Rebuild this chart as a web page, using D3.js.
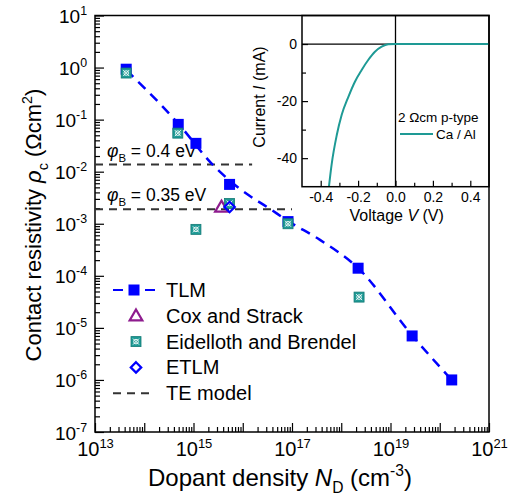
<!DOCTYPE html>
<html lang="en">
<head>
<meta charset="UTF-8"/>
<title>Contact resistivity vs dopant density</title>
<script src="https://d3js.org/d3.v7.min.js"></script>
<style>
	body { margin: 0; background: #fff; }
	svg { font-family: Arial, "Liberation Sans", Helvetica, sans-serif; }
	.frame { fill: none; stroke: #000; stroke-width: 1.5; }
	.tick line { stroke: #000; stroke-width: 1.2; }
	.te { fill: none; stroke: #333; stroke-width: 2; stroke-dasharray: 8,6; }
	.fit { fill: none; stroke: #0000ff; stroke-width: 2.5; stroke-dasharray: 10,7; }
</style>
</head>
<body>
<div id="chart"></div>
<script>
// TLM measurements
var tlmN   = [4.3e13, 4.9e14, 1.12e15, 5.4e15, 8.3e16, 2.2e18, 2.75e19, 1.75e20];
var tlmRho = [0.93, 0.081, 0.035, 0.0057, 0.0011, 1.4e-4, 7e-6, 1.0e-6];
// dashed guide through the TLM data
var fitN   = [4.3e13, 4.8e14, 2.5e15, 8.8e15, 3.6e16, 8.3e16, 3.7e17, 2.2e18, 2.7e19, 1.75e20];
var fitRho = [0.9, 0.086, 0.0134, 0.00465, 0.00192, 0.00113, 4.9e-4, 1.41e-4, 7.3e-6, 1.0e-6];
// Cox and Strack
var coxN = [3.7e15], coxRho = [2.1e-3];
// Eidelloth and Brendel
var eidN   = [4.3e13, 4.8e14, 1.12e15, 5.4e15, 8.3e16, 2.3e18];
var eidRho = [0.785, 0.055, 7.8e-4, 2.45e-3, 1.0e-3, 3.9e-5];
// ETLM
var etlmN = [5.4e15], etlmRho = [2.1e-3];
// TE model lines
var teLabels = ["0.4 eV", "0.35 eV"];
var teRho = [0.0137, 1.9e-3];
var teEnd = [1.55e16, 1.0e17];
// inset I-V curve
var ivV = [-0.356, -0.342, -0.314, -0.288, -0.252, -0.217, -0.181, -0.146, -0.110, -0.074, -0.039, 0, 0.5];
var ivI = [-50, -42.4, -31.9, -24.9, -18.5, -13.2, -9.1, -5.6, -2.7, -0.93, -0.1, 0, 0];
// ticks
var xLabelExp = [13, 15, 17, 19, 21];
var yLabelExp = [1, 0, -1, -2, -3, -4, -5, -6, -7];
var ivXTicks = [-0.4, -0.2, 0.0, 0.2, 0.4];
var ivYTicks = [0, -20, -40];

var w = 511, h = 497;
var blue = "#0000ff", purple = "#8e1c8e", teal = "#1e9a95";

var svg = d3.select("#chart").append("svg").attr("width", w).attr("height", h);

var x = d3.scaleLog().domain([1e13, 1e21]).range([95, 489]);
var y = d3.scaleLog().domain([1e-7, 1e1]).range([432, 15.5]);

// text with italic / sub / sup runs; base = extra first-line shift in px
function rich(t, parts, fs, base) {
	var off = 0;
	parts.forEach(function(p, i){
		var s = t.append("tspan").text(p.t);
		var target = p.sub ? fs*0.3 : (p.sup ? -fs*0.42 : 0);
		s.attr("dy", target - off + (i === 0 ? (base || 0) : 0));
		off = target;
		if (p.sub || p.sup) s.attr("font-size", fs*0.65);
		if (p.i) s.attr("font-style", "italic");
	});
}

// minor / major ticks for log axes
var xMajor = d3.range(13, 22).map(function(e){ return Math.pow(10, e); });
var xMinor = [];
d3.range(13, 21).forEach(function(e){ for (var k = 2; k < 10; k++) xMinor.push(k*Math.pow(10, e)); });
var yMajor = d3.range(-7, 2).map(function(e){ return Math.pow(10, e); });
var yMinor = [];
d3.range(-7, 1).forEach(function(e){ for (var k = 2; k < 10; k++) yMinor.push(k*Math.pow(10, e)); });

var gx = svg.append("g").attr("transform", "translate(0,432)")
	.call(d3.axisBottom(x).tickValues(xMajor).tickSize(-9).tickPadding(10).tickFormat(""));
svg.append("g").attr("transform", "translate(0,432)")
	.call(d3.axisBottom(x).tickValues(xMinor).tickSize(-5).tickFormat(""));
var gy = svg.append("g").attr("transform", "translate(95,0)")
	.call(d3.axisLeft(y).tickValues(yMajor).tickSize(-9).tickPadding(8).tickFormat(""));
svg.append("g").attr("transform", "translate(95,0)")
	.call(d3.axisLeft(y).tickValues(yMinor).tickSize(-5).tickFormat(""));
svg.selectAll(".domain").remove();

gx.selectAll(".tick text").each(function(d){
	var e = Math.round(Math.log10(d));
	if (xLabelExp.indexOf(e) < 0) return;
	var t = d3.select(this).attr("font-size", 20).attr("fill", "#000").attr("dy", null);
	rich(t, [{t: "10"}, {t: String(e), sup: true}], 20, 14);
});
gy.selectAll(".tick text").each(function(d){
	var e = Math.round(Math.log10(d));
	if (yLabelExp.indexOf(e) < 0) return;
	var t = d3.select(this).attr("font-size", 19).attr("fill", "#000").attr("dy", null);
	rich(t, [{t: "10"}, {t: e < 0 ? "-" + (-e) : String(e), sup: true}], 19, 7);
});

svg.append("rect").attr("class", "frame")
	.attr("x", 95).attr("y", 15.5).attr("width", 394).attr("height", 416.5);

// TE model
teRho.forEach(function(r, i){
	svg.append("line").attr("class", "te")
		.attr("x1", x(1e13)).attr("x2", x(teEnd[i]))
		.attr("y1", y(r)).attr("y2", y(r));
	var t = svg.append("text").attr("x", 107).attr("y", y(r) - 8).attr("font-size", 17.5);
	rich(t, [{t: "\u03c6", i: true}, {t: "B", sub: true}, {t: " = " + teLabels[i]}], 17.5);
});

// fitted dashed line
var line = d3.line().curve(d3.curveMonotoneX)
	.x(function(d){ return x(d[0]); }).y(function(d){ return y(d[1]); });
svg.append("path").attr("class", "fit").attr("d", line(d3.zip(fitN, fitRho)));

function marker(g, type, cx, cy) {
	if (type === "tlm") {
		g.append("rect").attr("x", cx-5.5).attr("y", cy-5.5).attr("width", 11).attr("height", 11).attr("fill", blue);
	} else if (type === "cox") {
		g.append("path").attr("d", d3.symbol(d3.symbolTriangle, 70)())
			.attr("transform", "translate(" + cx + "," + (cy+1) + ")")
			.attr("fill", "none").attr("stroke", purple).attr("stroke-width", 2.2);
	} else if (type === "eid") {
		g.append("rect").attr("x", cx-5).attr("y", cy-5).attr("width", 10).attr("height", 10)
			.attr("fill", teal).attr("stroke", "#137a76").attr("stroke-width", 0.8);
		g.append("path").attr("d", "M" + (cx-3) + "," + (cy-3) + "L" + (cx+3) + "," + (cy+3) + "M" + (cx+3) + "," + (cy-3) + "L" + (cx-3) + "," + (cy+3))
			.attr("stroke", "#fff").attr("stroke-width", 0.9);
		g.append("circle").attr("cx", cx).attr("cy", cy).attr("r", 2.3)
			.attr("fill", "none").attr("stroke", "#fff").attr("stroke-width", 0.9);
	} else if (type === "etlm") {
		g.append("path").attr("d", d3.symbol(d3.symbolDiamond2, 70)())
			.attr("transform", "translate(" + cx + "," + cy + ")")
			.attr("fill", "none").attr("stroke", blue).attr("stroke-width", 2.2);
	}
}

var gm = svg.append("g");
tlmN.forEach(function(n, i){ marker(gm, "tlm", x(n), y(tlmRho[i])); });
coxN.forEach(function(n, i){ marker(gm, "cox", x(n), y(coxRho[i])); });
eidN.forEach(function(n, i){ marker(gm, "eid", x(n), y(eidRho[i])); });
etlmN.forEach(function(n, i){ marker(gm, "etlm", x(n), y(etlmRho[i])); });

// legend
var legendNames = ["TLM", "Cox and Strack", "Eidelloth and Brendel", "ETLM", "TE model"];
var legendTypes = ["tlm", "cox", "eid", "etlm", "te"];
var lg = svg.append("g");
legendNames.forEach(function(name, i){
	var ly = 290 + i*25.8;
	if (legendTypes[i] === "tlm") {
		lg.append("line").attr("x1", 113).attr("x2", 155).attr("y1", ly).attr("y2", ly)
			.attr("stroke", blue).attr("stroke-width", 2).attr("stroke-dasharray", "10,6");
		marker(lg, "tlm", 134, ly);
	} else if (legendTypes[i] === "te") {
		lg.append("line").attr("class", "te").attr("x1", 113).attr("x2", 155).attr("y1", ly).attr("y2", ly);
	} else {
		marker(lg, legendTypes[i], 136, ly);
	}
	lg.append("text").attr("x", 166).attr("y", ly + 7).attr("font-size", 20).text(name);
});

// axis titles
var xt = svg.append("text").attr("x", 280).attr("y", 486).attr("text-anchor", "middle").attr("font-size", 24);
rich(xt, [{t: "Dopant density "}, {t: "N", i: true}, {t: "D", sub: true}, {t: " (cm"}, {t: "-3", sup: true}, {t: ")"}], 24);
var yt = svg.append("text").attr("transform", "translate(41,225) rotate(-90)").attr("text-anchor", "middle").attr("font-size", 22);
rich(yt, [{t: "Contact resistivity "}, {t: "\u03c1", i: true}, {t: "c", sub: true}, {t: " (\u03a9cm"}, {t: "2", sup: true}, {t: ")"}], 22);

// inset
var ix = d3.scaleLinear().domain([-0.5, 0.5]).range([302, 489]);
var iy = d3.scaleLinear().domain([-50, 10]).range([186.7, 15.5]);
var ins = svg.append("g");
var ixMinor = [-0.3, -0.1, 0.1, 0.3];
var iyMinor = [-10, -30];
var igx = ins.append("g").attr("transform", "translate(0,186.7)")
	.call(d3.axisBottom(ix).tickValues(ivXTicks).tickSize(-6).tickPadding(5).tickFormat(d3.format(".1f")));
ins.append("g").attr("transform", "translate(0,186.7)")
	.call(d3.axisBottom(ix).tickValues(ixMinor).tickSize(-4).tickFormat(""));
var igy = ins.append("g").attr("transform", "translate(302,0)")
	.call(d3.axisLeft(iy).tickValues(ivYTicks).tickSize(-6).tickPadding(5).tickFormat(d3.format("d")));
ins.append("g").attr("transform", "translate(302,0)")
	.call(d3.axisLeft(iy).tickValues(iyMinor).tickSize(-4).tickFormat(""));
ins.selectAll(".domain").remove();
ins.selectAll(".tick text").attr("font-size", 14).attr("fill", "#000").attr("font-family", null);
igx.selectAll(".tick text").text(function(d){ return d3.format(".1f")(d).replace("\u2212", "-"); });
igy.selectAll(".tick text").text(function(d){ return String(d); });

ins.append("line").attr("x1", ix(-0.5)).attr("x2", ix(0.5)).attr("y1", iy(0)).attr("y2", iy(0))
	.attr("stroke", "#000").attr("stroke-width", 1.3);
ins.append("line").attr("x1", ix(0)).attr("x2", ix(0)).attr("y1", iy(10)).attr("y2", iy(-50))
	.attr("stroke", "#000").attr("stroke-width", 1.3);

ins.append("defs").append("clipPath").attr("id", "iclip").append("rect")
	.attr("x", 302).attr("y", 15.5).attr("width", 187).attr("height", 171.2);
var ivLine = d3.line().curve(d3.curveMonotoneX)
	.x(function(d){ return ix(d[0]); }).y(function(d){ return iy(d[1]); });
ins.append("path").attr("d", ivLine(d3.zip(ivV, ivI))).attr("clip-path", "url(#iclip)")
	.attr("fill", "none").attr("stroke", teal).attr("stroke-width", 2);

ins.append("rect").attr("class", "frame")
	.attr("x", 302).attr("y", 15.5).attr("width", 187).attr("height", 171.2);

ins.append("text").attr("x", 398).attr("y", 121.5).attr("font-size", 13.5).text("2 \u03a9cm p-type");
ins.append("line").attr("x1", 400).attr("x2", 433).attr("y1", 134).attr("y2", 134)
	.attr("stroke", teal).attr("stroke-width", 2);
ins.append("text").attr("x", 436).attr("y", 138.5).attr("font-size", 13.5).text("Ca / Al");

var ixt = ins.append("text").attr("x", 396.7).attr("y", 221).attr("text-anchor", "middle").attr("font-size", 16);
rich(ixt, [{t: "Voltage "}, {t: "V", i: true}, {t: " (V)"}], 16);
var iyt = ins.append("text").attr("transform", "translate(265,97) rotate(-90)").attr("text-anchor", "middle").attr("font-size", 16);
rich(iyt, [{t: "Current "}, {t: "I", i: true}, {t: " (mA)"}], 16);
</script>
</body>
</html>
